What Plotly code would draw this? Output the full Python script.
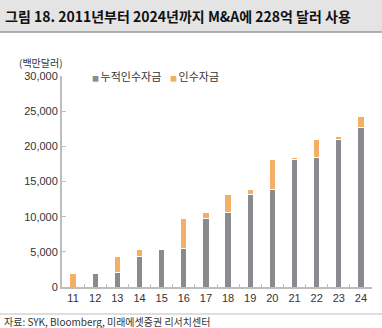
import plotly.graph_objects as go

years = ["11", "12", "13", "14", "15", "16", "17", "18", "19", "20", "21", "22", "23", "24"]
cumulative = [0, 1900, 2100, 4400, 5350, 5500, 9800, 10650, 13100, 13900, 18150, 18450, 21000, 22650]
acquisition = [1900, 0, 2300, 1000, 0, 4300, 800, 2450, 800, 4200, 300, 2550, 400, 1650]
y_ticks = [0, 5000, 10000, 15000, 20000, 25000, 30000]
series_names = ["누적인수자금", "인수자금"]

GREY = "#898b8e"
ORANGE = "#f2b066"
FONT = "Noto Sans CJK KR"

fig = go.Figure()
fig.add_trace(go.Bar(x=years, y=cumulative, name=series_names[0], showlegend=False,
                     marker=dict(color=GREY, line=dict(color="white", width=1))))
fig.add_trace(go.Bar(x=years, y=acquisition, name=series_names[1], showlegend=False,
                     marker=dict(color=ORANGE, line=dict(color="white", width=1))))

L, R, T, B = 62, 10, 76, 41
W, H = 382, 328
pw, ph = W - L - R, H - T - B

def px_x(x):
    return (x - L) / pw

def px_y(y):
    return (H - B - y) / ph

def legend_text(color, name):
    return f"<span style='color:{color};font-size:7px'>■ </span>{name}"

fig.update_layout(
    width=W, height=H, barmode="stack", bargap=0.72,
    margin=dict(l=L, r=R, t=T, b=B),
    paper_bgcolor="white", plot_bgcolor="white",
    font=dict(family=FONT, size=11, color="#333"),
    showlegend=False,
    xaxis=dict(showline=True, linecolor="#bdbdbd", linewidth=2, ticks="inside",
               tickson="boundaries", ticklen=3, tickcolor="#bdbdbd",
               tickfont=dict(size=11, color="#333", family="Liberation Sans"), showgrid=False),
    yaxis=dict(range=[0, 30000], tickvals=y_ticks, tickformat=",", showline=True,
               linecolor="#bdbdbd", linewidth=2, ticks="inside", ticklen=4, tickcolor="#bdbdbd",
               tickfont=dict(size=11, color="#333", family="Liberation Sans"), showgrid=False,
               zeroline=False),
    shapes=[
        dict(type="rect", xref="paper", yref="paper", x0=px_x(0), x1=px_x(W),
             y0=px_y(32), y1=px_y(0), fillcolor="#e4e4e4", line=dict(width=0), layer="below"),
        dict(type="line", xref="paper", yref="paper", x0=px_x(0), x1=px_x(W),
             y0=px_y(32), y1=px_y(32), line=dict(color="#9a9a9a", width=1.5)),
        dict(type="line", xref="paper", yref="paper", x0=px_x(0), x1=px_x(W),
             y0=px_y(314), y1=px_y(314), line=dict(color="#bdbdbd", width=1)),
    ],
    annotations=[
        dict(text="<b>그림 18. 2011년부터 2024년까지 M&A에 228억 달러 사용</b>", xref="paper", yref="paper",
             x=px_x(3), y=px_y(16), xanchor="left", yanchor="middle", showarrow=False,
             font=dict(size=14, color="#111", family=FONT)),
        dict(text="(백만달러)", xref="paper", yref="paper", x=px_x(17), y=px_y(62),
             xanchor="left", yanchor="middle", showarrow=False,
             font=dict(size=10, color="#333", family=FONT)),
        dict(text=legend_text(GREY, series_names[0]), xref="paper", yref="paper",
             x=px_x(90), y=px_y(76), xanchor="left", yanchor="middle", showarrow=False,
             font=dict(size=11, color="#333", family=FONT)),
        dict(text=legend_text(ORANGE, series_names[1]), xref="paper", yref="paper",
             x=px_x(168), y=px_y(76), xanchor="left", yanchor="middle", showarrow=False,
             font=dict(size=11, color="#333", family=FONT)),
        dict(text="자료: SYK, Bloomberg, 미래에셋증권 리서치센터", xref="paper", yref="paper",
             x=px_x(2), y=px_y(321), xanchor="left", yanchor="middle", showarrow=False,
             font=dict(size=10, color="#333", family=FONT)),
    ],
)

fig.write_html("out.html")
